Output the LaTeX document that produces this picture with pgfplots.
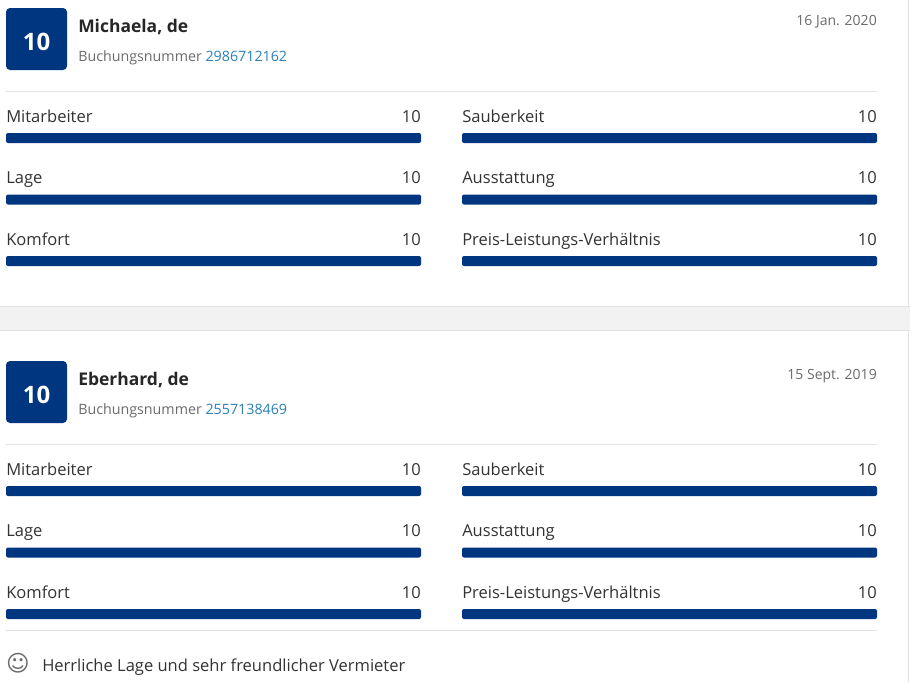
\documentclass[border=0pt]{standalone}
\usepackage{pgfplots}
\pgfplotsset{compat=1.18}
\usepackage{fontspec}
\setmainfont{Open Sans}
\newfontfamily\symfont{DejaVu Sans}

\definecolor{bkblue}{HTML}{003580}
\definecolor{txt}{HTML}{333333}
\definecolor{namec}{HTML}{262626}
\definecolor{sub}{HTML}{6B6B6B}
\definecolor{link}{HTML}{2A80B9}
\definecolor{rulec}{HTML}{E2E2E2}
\definecolor{band}{HTML}{F2F2F2}

\newcommand\fs[1]{\fontsize{#1}{#1}\selectfont}

% one block of three score bars (score out of 10); 1px = 0.75pt
\pgfplotsset{
  scorebars/.style={
    xbar, bar width=7.5pt, bar shift=0pt,
    scale only axis, width=311.25pt, height=138.375pt,
    anchor=north west, clip=false,
    xmin=0, xmax=10, ymin=-0.5, ymax=2.5, y dir=reverse,
    axis line style={draw=none}, major tick length=0pt,
    xtick=\empty, ytick={0,1,2},
    /pgf/number format/assume math mode=true,
    yticklabel style={anchor=base west, inner sep=0pt, yshift=12pt,
      font=\fs{12.4}, text=txt},
    nodes near coords, point meta=x,
    every node near coord/.append style={anchor=base east, inner sep=0pt,
      yshift=12pt, font=\fs{12.4}, text=txt},
  },
  scorebar/.style={fill=bkblue, draw=none, rounded corners=1.5pt},
}

\begin{document}
\begin{tikzpicture}
\begin{scope}[x=0.75pt, y=-0.75pt]
\useasboundingbox (0,0) rectangle (910,682);
\fill[white] (0,0) rectangle (910,682);

% separator band between the two reviews
\fill[band] (0,306) rectangle (910,330);
\draw[rulec] (0,306) -- (910,306);
\draw[rulec] (0,330) -- (910,330);
\draw[rulec] (908,0) -- (908,306);
\draw[rulec] (908,330) -- (908,682);

% ---- review 1 ----
\fill[bkblue, rounded corners=3pt] (6,8) rectangle (67,70);
\node[anchor=base, inner sep=0pt, text=white] at (36.5,50) {\fs{18}\bfseries 10};
\node[anchor=base west, inner sep=0pt, text=namec] at (78,32) {\fs{13.1}\bfseries Michaela, de};
\node[anchor=base west, inner sep=0pt, text=sub] at (78,61) {\fs{10.7}Buchungsnummer \textcolor{link}{2986712162}};
\node[anchor=base east, inner sep=0pt, text=sub] at (877,25) {\fs{10.5}16 Jan. 2020};
\draw[rulec] (6,91) -- (877,91);

% ---- review 2 ----
\fill[bkblue, rounded corners=3pt] (6,361) rectangle (67,423);
\node[anchor=base, inner sep=0pt, text=white] at (36.5,403) {\fs{18}\bfseries 10};
\node[anchor=base west, inner sep=0pt, text=namec] at (78,385) {\fs{13.1}\bfseries Eberhard, de};
\node[anchor=base west, inner sep=0pt, text=sub] at (78,414) {\fs{10.7}Buchungsnummer \textcolor{link}{2557138469}};
\node[anchor=base east, inner sep=0pt, text=sub] at (877,379) {\fs{10.5}15 Sept. 2019};
\draw[rulec] (6,444) -- (877,444);

\draw[rulec] (6,630) -- (877,630);
\node[inner sep=0pt, text=sub] at (18,663) {\symfont\fs{17}☺};
\node[anchor=base west, inner sep=0pt, text=txt] at (42,671) {\fs{12.4}Herrliche Lage und sehr freundlicher Vermieter};
\end{scope}

% score bars: x = 6px / 462px, top = 107.25px / 460.25px
\begin{axis}[scorebars, at={(4.5pt,-80.4375pt)}, yticklabels={Mitarbeiter,Lage,Komfort}]
\addplot[scorebar] coordinates {(10,0) (10,1) (10,2)};
\end{axis}
\begin{axis}[scorebars, at={(346.5pt,-80.4375pt)}, yticklabels={Sauberkeit,Ausstattung,Preis-Leistungs-Verhältnis}]
\addplot[scorebar] coordinates {(10,0) (10,1) (10,2)};
\end{axis}
\begin{axis}[scorebars, at={(4.5pt,-345.1875pt)}, yticklabels={Mitarbeiter,Lage,Komfort}]
\addplot[scorebar] coordinates {(10,0) (10,1) (10,2)};
\end{axis}
\begin{axis}[scorebars, at={(346.5pt,-345.1875pt)}, yticklabels={Sauberkeit,Ausstattung,Preis-Leistungs-Verhältnis}]
\addplot[scorebar] coordinates {(10,0) (10,1) (10,2)};
\end{axis}
\end{tikzpicture}
\end{document}
